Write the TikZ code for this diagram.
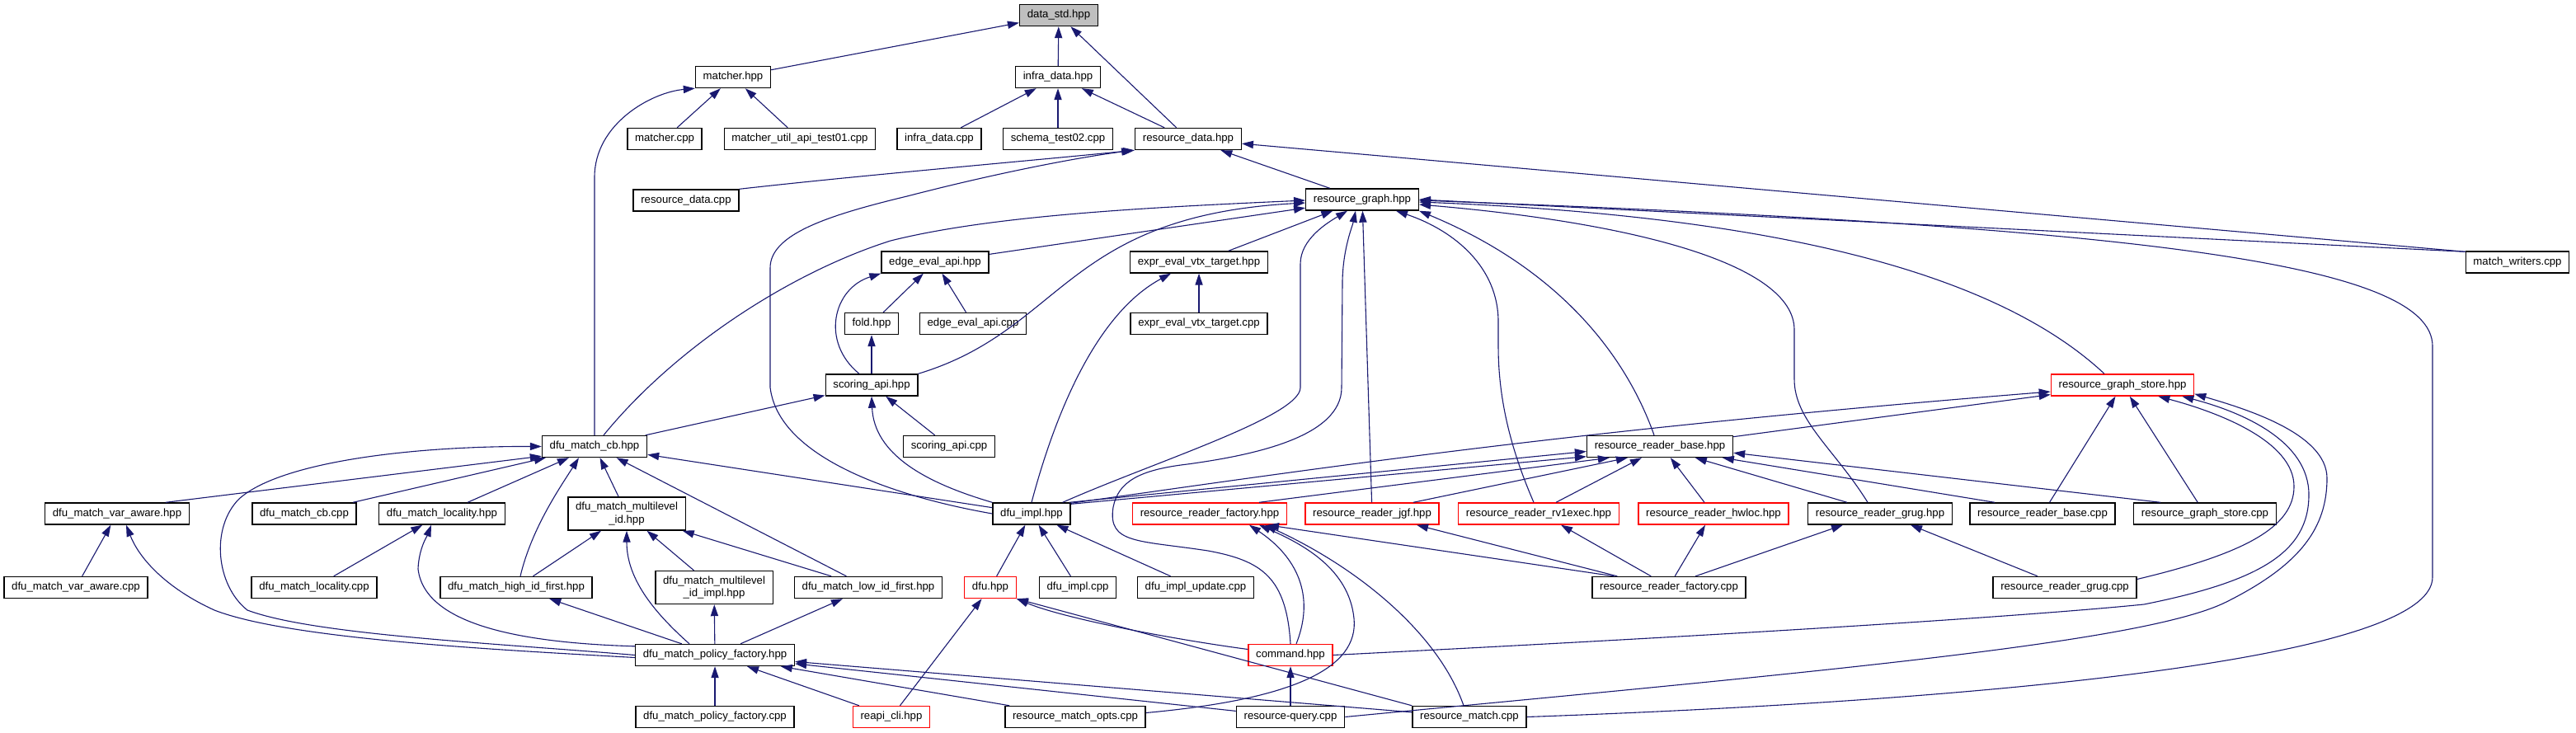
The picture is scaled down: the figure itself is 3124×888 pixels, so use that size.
\documentclass[tikz,border=0pt]{standalone}
\usepackage{fontspec}
\setmainfont{Liberation Sans}
\usetikzlibrary{arrows.meta,calc}
\definecolor{edgeblue}{HTML}{191970}
\definecolor{grayfill}{HTML}{BFBFBF}
\begin{document}
\begin{tikzpicture}[x=0.5pt,y=-0.5pt,
  box/.style={draw=black,line width=0.7pt,fill=white,font=\fontsize{6.6pt}{7.6pt}\selectfont,
    inner xsep=4.6pt,inner ysep=0pt,minimum height=13pt,text height=4.9pt,text depth=1.5pt},
  rbox/.style={box,draw=red},
  gbox/.style={box,fill=grayfill},
  box2/.style={draw=black,line width=0.7pt,fill=white,font=\fontsize{6.6pt}{7.6pt}\selectfont,
    inner xsep=4.6pt,inner ysep=1pt,minimum height=20pt,align=center},
  e/.style={draw=edgeblue,line width=0.55pt,-{Triangle[length=7pt,width=4.6pt]}}]
\useasboundingbox[fill=white] (0,0) rectangle (3124,888);

% rank 0-3
\node[gbox] (ds) at (1284,18.5) {data\_std.hpp};
\node[box] (mh) at (889,93.5) {matcher.hpp};
\node[box] (idh) at (1283,93.5) {infra\_data.hpp};
\node[box] (mc) at (806,168.5) {matcher.cpp};
\node[box] (mut) at (970,168.5) {matcher\_util\_api\_test01.cpp};
\node[box] (idc) at (1139,168.5) {infra\_data.cpp};
\node[box] (st) at (1283,168.5) {schema\_test02.cpp};
\node[box] (rdh) at (1441,168.5) {resource\_data.hpp};
\node[box] (rdc) at (832,243) {resource\_data.cpp};
\node[box] (rgh) at (1652,242) {resource\_graph.hpp};
% rank 4-7
\node[box] (eah) at (1134,318) {edge\_eval\_api.hpp};
\node[box] (evh) at (1454,318) {expr\_eval\_vtx\_target.hpp};
\node[box] (mw) at (3053,318) {match\_writers.cpp};
\node[box] (fold) at (1057,392.5) {fold.hpp};
\node[box] (eac) at (1180,392.5) {edge\_eval\_api.cpp};
\node[box] (evc) at (1454,392.5) {expr\_eval\_vtx\_target.cpp};
\node[box] (sah) at (1057,467) {scoring\_api.hpp};
\node[rbox] (rgs) at (2574,467) {resource\_graph\_store.hpp};
\node[box] (dmcb) at (721,541.5) {dfu\_match\_cb.hpp};
\node[box] (sac) at (1151,541.5) {scoring\_api.cpp};
\node[box] (rrb) at (2013,541.5) {resource\_reader\_base.hpp};
% rank 8
\node[box] (dmva) at (142,623) {dfu\_match\_var\_aware.hpp};
\node[box] (dmcbc) at (369,623) {dfu\_match\_cb.cpp};
\node[box] (dml) at (536,623) {dfu\_match\_locality.hpp};
\node[box2] (dmml) at (760,623) {dfu\_match\_multilevel\\\_id.hpp};
\node[box] (dih) at (1251,623) {dfu\_impl.hpp};
\node[rbox] (rrf) at (1467,623) {resource\_reader\_factory.hpp};
\node[rbox] (rrj) at (1664,623) {resource\_reader\_jgf.hpp};
\node[rbox] (rrr) at (1866,623) {resource\_reader\_rv1exec.hpp};
\node[rbox] (rrh) at (2078,623) {resource\_reader\_hwloc.hpp};
\node[box] (rrg) at (2280,623) {resource\_reader\_grug.hpp};
\node[box] (rbc) at (2477,623) {resource\_reader\_base.cpp};
\node[box] (rgc) at (2674,623) {resource\_graph\_store.cpp};
% rank 9
\node[box] (dmvac) at (92,712.5) {dfu\_match\_var\_aware.cpp};
\node[box] (dmlc) at (381,712.5) {dfu\_match\_locality.cpp};
\node[box] (dmhf) at (626,712.5) {dfu\_match\_high\_id\_first.hpp};
\node[box2] (dmmi) at (866,712.5) {dfu\_match\_multilevel\\\_id\_impl.hpp};
\node[box] (dmlo) at (1053,712.5) {dfu\_match\_low\_id\_first.hpp};
\node[rbox] (dfu) at (1201,712.5) {dfu.hpp};
\node[box] (dic) at (1307,712.5) {dfu\_impl.cpp};
\node[box] (diu) at (1450,712.5) {dfu\_impl\_update.cpp};
\node[box] (rfc) at (2024,712.5) {resource\_reader\_factory.cpp};
\node[box] (rgcpp) at (2504,712.5) {resource\_reader\_grug.cpp};
% rank 10-11
\node[box] (dpf) at (867,794.5) {dfu\_match\_policy\_factory.hpp};
\node[rbox] (cmd) at (1565,794.5) {command.hpp};
\node[box] (dpc) at (867,869.5) {dfu\_match\_policy\_factory.cpp};
\node[rbox] (rc) at (1081,869.5) {reapi\_cli.hpp};
\node[box] (rmo) at (1304,869.5) {resource\_match\_opts.cpp};
\node[box] (rq) at (1565,869.5) {resource-query.cpp};
\node[box] (rmc) at (1782,869.5) {resource\_match.cpp};

% ---- edges: top
\draw[e] (mh) -- (ds);
\draw[e] (idh) -- (ds);
\draw[e] (rdh) -- (ds);
\draw[e] (mc) -- (mh);
\draw[e] (mut) -- (mh);
\draw[e] (dmcb.north) -- (721,215) .. controls (721,150) and (790,112) .. (mh.south west);
\draw[e] (idc) -- (idh);
\draw[e] (st) -- (idh);
\draw[e] (rdh) -- (idh);
\draw[e] (rdc.north east) .. controls (1050,212) and (1250,195) .. (rdh.south west);
\draw[e] (dih.west) .. controls (1100,605) and (945,560) .. (934,470) -- (934,325)
  .. controls (934,285) and (1000,262) .. (1100,238) .. controls (1200,212) and (1300,192) .. ($(rdh.south west)+(-2,0)$);
\draw[e] (rgh) -- (rdh);
\draw[e] ($(mw.north west)+(0,1)$) -- (rdh);

% ---- into resource_graph
\draw[e] (eah) -- (rgh);
\draw[e] (evh) -- (rgh);
\draw[e] (sah.north east) .. controls (1290,400) and (1290,262) .. ($(rgh.west)+(0,4)$);
\draw[e] ($(dmcb.north)+(11,0)$) .. controls (820,420) and (960,330) .. (1080,292)
  .. controls (1200,262) and (1380,252) .. ($(rgh.west)+(0,1)$);
\draw[e] ($(dih.north east)+(-10,0)$) .. controls (1400,560) and (1577,505) .. (1577,470) -- (1577,320)
  .. controls (1577,290) and (1610,270) .. ($(rgh.south)+(-18,0)$);
\draw[e] (cmd.north) .. controls (1560,700) and (1530,680) .. (1465,668)
  .. controls (1380,655) and (1343,660) .. (1350,615)
  .. controls (1356,585) and (1380,570) .. (1440,563)
  .. controls (1520,552) and (1627,530) .. (1627,470) -- (1628,340)
  .. controls (1629,300) and (1640,275) .. ($(rgh.south)+(-8,0)$);
\draw[e] (rrj) -- (rgh);
\draw[e] ($(rrr.north)+(-6,0)$) .. controls (1830,540) and (1817,480) .. (1817,420) -- (1817,390)
  .. controls (1817,325) and (1765,280) .. ($(rgh.south east)+(-28,0)$);
\draw[e] ($(rrb.north)+(-7,0)$) .. controls (1975,440) and (1900,330) .. (rgh.south east);
\draw[e] ($(rrg.north)+(-15,0)$) .. controls (2225,545) and (2176,510) .. (2176,460) -- (2176,400)
  .. controls (2176,320) and (1980,270) .. ($(rgh.east)+(0,6)$);
\draw[e] ($(rgs.north)+(-22,0)$) .. controls (2420,330) and (2150,262) .. ($(rgh.east)+(0,3)$);
\draw[e] ($(mw.north west)+(0,1)$) -- (rgh.east);
\draw[e] (rmc.east) .. controls (2400,850) and (2950,800) .. (2950,700) -- (2950,420)
  .. controls (2950,320) and (2600,275) .. ($(rgh.east)+(0,1)$);

% ---- edge_eval / expr / scoring
\draw[e] (fold) -- (eah);
\draw[e] (eac) -- (eah);
\draw[e] ($(sah.north)+(-15,0)$) .. controls (995,415) and (1010,350) .. (eah.south west);
\draw[e] (evc) -- (evh);
\draw[e] (sah) -- (fold);
\draw[e] (sac) -- (sah);
\draw[e] (dih.north west) .. controls (1120,585) and (1060,550) .. (sah.south);
\draw[e] (dmcb) -- (sah);
\draw[e] (dih.north) .. controls (1280,500) and (1330,380) .. ($(evh.south)+(-34,0)$);
\draw[e] (dih) -- (dmcb);

% ---- resource_reader_base / graph_store
\draw[e] ($(dih.north east)+(-2,0)$) -- ($(rrb.west)+(0,6)$);
\draw[e] ($(dih.north east)+(0,2)$) -- ($(rrb.south west)+(0,-1.5)$);
\draw[e] ($(dih.north east)+(0,1)$) .. controls (1600,568) and (1900,522) .. ($(rgs.west)+(0,8)$);
\draw[e] ($(rrf.north)+(60,0)$) -- ($(rrb.south west)+(28,0)$);
\draw[e] ($(rrj.north)+(50,0)$) -- ($(rrb.south west)+(50,0)$);
\draw[e] ($(rrr.north)+(21,0)$) -- ($(rrb.south west)+(67,0)$);
\draw[e] ($(rrh.north)+(-11,0)$) -- ($(rrb.south west)+(102,0)$);
\draw[e] ($(rrg.north)+(-40,0)$) -- ($(rrb.south west)+(132,0)$);
\draw[e] ($(rbc.north)+(-58,0)$) -- ($(rrb.south west)+(165,0)$);
\draw[e] ($(rgc.north)+(-54,0)$) -- ($(rrb.south east)+(0,-6)$);
\draw[e] (rrb) -- (rgs);
\draw[e] (rbc) -- (rgs);
\draw[e] (rgc) -- (rgs);
\draw[e] ($(rgcpp.east)+(0,-10)$) .. controls (2720,672) and (2782,640) .. (2782,590)
  .. controls (2782,535) and (2690,500) .. ($(rgs.south east)+(-44,0)$);
\draw[e] (cmd.east) .. controls (2100,770) and (2450,748) .. (2600,733)
  .. controls (2740,705) and (2800,670) .. (2800,600)
  .. controls (2800,535) and (2720,500) .. ($(rgs.south east)+(-15,0)$);
\draw[e] (rq.east) .. controls (2200,815) and (2600,780) .. (2700,730)
  .. controls (2790,685) and (2822,640) .. (2822,580)
  .. controls (2822,525) and (2720,495) .. ($(rgs.south east)+(0,-3)$);

% ---- resource_reader_factory and readers
\draw[e] ($(cmd.north)+(7,0)$) .. controls (1598,715) and (1565,670) .. ($(rrf.south)+(48,0)$);
\draw[e] ($(rmo.east)+(0,-5)$) .. controls (1570,848) and (1648,810) .. (1642,750)
  .. controls (1636,690) and (1580,660) .. ($(rrf.south)+(60,0)$);
\draw[e] ($(rmc.north)+(-7,0)$) .. controls (1745,770) and (1650,690) .. ($(rrf.south)+(67,0)$);
\draw[e] ($(rfc.north west)+(27,0)$) -- ($(rrf.south)+(70,0)$);
\draw[e] ($(rfc.north west)+(31,0)$) -- ($(rrj.south)+(54,0)$);
\draw[e] ($(rfc.north west)+(72,0)$) -- ($(rrr.south)+(27,0)$);
\draw[e] ($(rfc.north west)+(101,0)$) -- ($(rrh.south)+(-10,0)$);
\draw[e] ($(rfc.north west)+(126,0)$) -- ($(rrg.south)+(-45,0)$);
\draw[e] ($(rgcpp.north)+(-33,0)$) -- ($(rrg.south)+(37,0)$);

% ---- dfu_impl, dfu, command
\draw[e] (dfu) -- (dih);
\draw[e] (dic) -- (dih);
\draw[e] (diu) -- (dih);
\draw[e] (rc) -- (dfu);
\draw[e] ($(cmd.west)+(0,-7)$) .. controls (1420,775) and (1290,750) .. (dfu.south east);
\draw[e] (rmc.north west) -- (dfu.south east);
\draw[e] (rq) -- (cmd);

% ---- dfu_match_policy_factory
\draw[e] (dpc) -- (dpf);
\draw[e] (rc) -- (dpf);
\draw[e] (rmo) -- (dpf);
\draw[e] (rq) -- (dpf);
\draw[e] (rmc) -- (dpf);
\draw[e] (dpf.west) .. controls (600,780) and (380,770) .. (300,740)
  .. controls (262,710) and (255,640) .. (290,605)
  .. controls (340,560) and (500,541) .. (dmcb.west);
\draw[e] ($(dpf.west)+(0,3)$) .. controls (600,788) and (350,775) .. (260,740)
  .. controls (205,715) and (170,680) .. ($(dmva.south)+(11,0)$);
\draw[e] ($(dpf.north west)+(0,3)$) .. controls (640,780) and (515,760) .. (507,690)
  .. controls (508,665) and (518,650) .. ($(dml.south)+(-13,0)$);
\draw[e] ($(dpf.north)+(-31,0)$) .. controls (790,740) and (760,700) .. (dmml.south);
\draw[e] (dpf) -- (dmhf);
\draw[e] (dpf) -- (dmmi);
\draw[e] (dpf) -- (dmlo);

% ---- dfu_match_* family
\draw[e] (dmvac) -- (dmva);
\draw[e] (dmlc) -- (dml);
\draw[e] (dmhf) -- (dmml);
\draw[e] (dmmi) -- (dmml);
\draw[e] (dmlo) -- (dmml);
\draw[e] ($(dmva.north)+(59,0)$) -- ($(dmcb.south west)+(0,-2)$);
\draw[e] (dmcbc) -- (dmcb);
\draw[e] (dml) -- (dmcb);
\draw[e] ($(dmhf.north)+(5,0)$) .. controls (645,640) and (680,590) .. ($(dmcb.south)+(-19,0)$);
\draw[e] (dmml) -- (dmcb);
\draw[e] (dmlo) -- (dmcb);
\end{tikzpicture}
\end{document}
